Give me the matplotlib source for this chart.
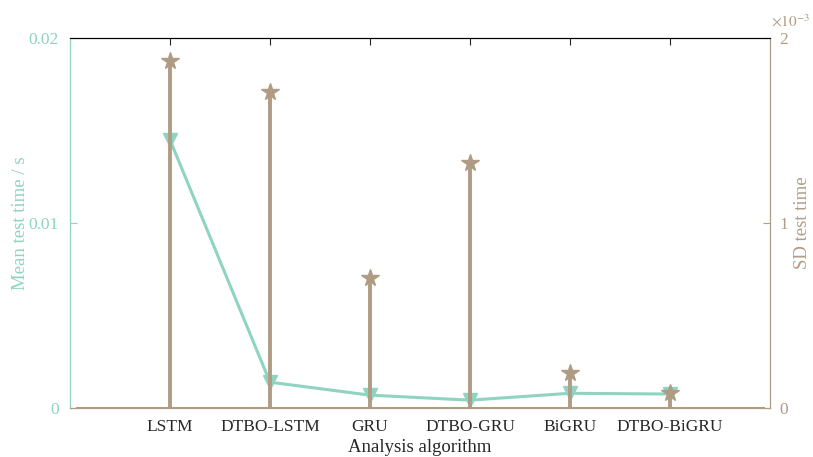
import matplotlib.pyplot as plt
from matplotlib.ticker import FuncFormatter

plt.rcParams['font.family'] = ['Liberation Serif', 'DejaVu Serif']
plt.rcParams['mathtext.fontset'] = 'stix'

# data
algorithms = ["LSTM", "DTBO-LSTM", "GRU", "DTBO-GRU", "BiGRU", "DTBO-BiGRU"]
mean_time = [0.01449, 0.00140, 0.00070, 0.00043, 0.00080, 0.00076]
sd_time = [1.876e-3, 1.708e-3, 0.703e-3, 1.324e-3, 0.189e-3, 0.081e-3]

teal = "#8fd3c1"
brown = "#b09c85"

fig = plt.figure(figsize=(8.13, 4.57), dpi=100)
ax = fig.add_axes([0.0861, 0.107, 0.861, 0.81])
ax2 = ax.twinx()

x = list(range(1, len(algorithms) + 1))

# mean test time line
ax.plot(x, mean_time, color=teal, linewidth=2.2, marker='v', markersize=10,
        markerfacecolor=teal, markeredgecolor=teal, zorder=3)
ax.set_xlim(0, 7)
ax.set_ylim(0, 0.02)
ax.set_yticks([0, 0.01, 0.02])
ax.yaxis.set_major_formatter(FuncFormatter(lambda v, p: "%g" % v))
ax.set_xticks(x)
ax.set_xticklabels(algorithms)
ax.set_ylabel("Mean test time / s", color=teal, fontsize=13.5, labelpad=0)
ax.set_xlabel("Analysis algorithm", color="#262626", fontsize=13.5, labelpad=3)
ax.tick_params(axis='y', colors=teal, direction='in', labelsize=12.5,
               length=5, pad=8)
ax.tick_params(axis='x', colors="#262626", direction='in', top=True,
               labelsize=12.5, length=5, pad=8)

# SD test time stems
ml, sl, bl = ax2.stem(x, sd_time, basefmt=' ')
plt.setp(sl, color=brown, linewidth=2.8)
plt.setp(ml, marker='*', markersize=13, color=brown, markeredgecolor=brown)
ax2.axhline(0, xmin=0.01, xmax=0.99, color=brown, linewidth=2.2)
ax2.set_ylim(0, 2e-3)
ax2.set_yticks([0, 1e-3, 2e-3])
ax2.yaxis.set_major_formatter(FuncFormatter(lambda v, p: "%g" % (v * 1e3)))
ax2.text(1.002, 1.022, r"$\times10^{-3}$", transform=ax2.transAxes,
         color=brown, fontsize=11, ha='left', va='bottom')
ax2.set_ylabel("SD test time", color=brown, fontsize=13.5, labelpad=4)
ax2.tick_params(axis='y', colors=brown, direction='in', labelsize=12.5,
                length=5, pad=7)

for a in (ax, ax2):
    a.spines['left'].set_color(teal)
    a.spines['right'].set_color(brown)
    a.spines['bottom'].set_color(brown)
    a.spines['top'].set_color('black')

fig.savefig("out.png", dpi=100)
